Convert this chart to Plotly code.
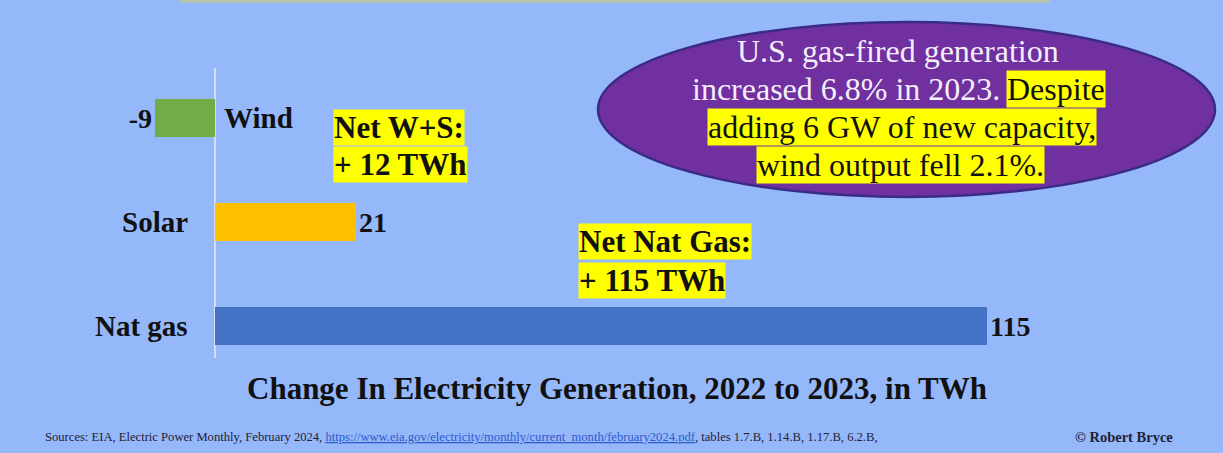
import plotly.graph_objects as go

# ---- data ----
categories = ["Wind", "Solar", "Nat gas"]
values = [-9, 21, 115]
bar_colors = ["#70AD47", "#FFC000", "#4472C4"]
title_text = "Change In Electricity Generation, 2022 to 2023, in TWh"
net_ws = ["Net W+S:", "+ 12 TWh"]
net_gas = ["Net Nat Gas:", "+ 115 TWh"]
oval_lines = ["U.S. gas-fired generation", "increased 6.8% in 2023.", "Despite",
              "adding 6 GW of new capacity,", "wind output fell 2.1%."]
source_text = ("Sources: EIA, Electric Power Monthly, February 2024, "
               "<span style='color:#2E5BC8'><u>https://www.eia.gov/electricity/monthly/current_month/february2024.pdf</u></span>"
               ", tables 1.7.B, 1.14.B, 1.17.B, 6.2.B,")
credit_text = "© Robert Bryce"

W, H = 1223, 453
BG = "#95B8FB"
SERIF = "Liberation Serif"

# layout helpers (pixel -> paper)
def px(x):
    return x / W

def py(y):
    return 1 - y / H

zero_px = 215
ppu = 6.71
x_range = [-zero_px / ppu, (W - zero_px) / ppu]
y_range = [(H - 118) / 104, -118 / 104]

fig = go.Figure()
fig.add_trace(go.Bar(
    y=categories, x=values, orientation="h",
    marker=dict(color=bar_colors, line=dict(width=0)),
    width=0.36,
    text=[str(v) for v in values],
    textposition="outside",
    textfont=dict(family=SERIF, size=28, color="#111111", weight="bold"),
    constraintext="none",
    cliponaxis=False,
    hoverinfo="skip",
))

annotations = []
# category labels
for cat in categories:
    if cat == "Wind":
        annotations.append(dict(x=0, y=cat, xref="x", yref="y", text="<b>%s</b>" % cat,
                                xanchor="left", xshift=7, showarrow=False,
                                font=dict(family=SERIF, size=29, color="#111111")))
    else:
        annotations.append(dict(x=0, y=cat, xref="x", yref="y", text="<b>%s</b>" % cat,
                                xanchor="right", xshift=-25, showarrow=False,
                                font=dict(family=SERIF, size=29, color="#111111")))

def hl(text, x, y, anchor="left", size=31, bold=True):
    t = "<b>%s</b>" % text if bold else text
    return dict(x=px(x), y=py(y), xref="paper", yref="paper", text=t, xanchor=anchor,
                yanchor="middle", showarrow=False, bgcolor="#FFFF00", borderpad=0,
                font=dict(family=SERIF, size=size, color="#111111"))

annotations.append(hl(net_ws[0], 333, 127))
annotations.append(hl(net_ws[1], 333, 164))
annotations.append(hl(net_gas[0], 578, 241))
annotations.append(hl(net_gas[1], 578, 280))

# oval text
OV = 32
annotations.append(dict(x=px(898), y=py(51), xref="paper", yref="paper", text=oval_lines[0],
                        xanchor="center", yanchor="middle", showarrow=False,
                        font=dict(family=SERIF, size=OV, color="#F4EEFA")))
annotations.append(dict(x=px(1002), y=py(89), xref="paper", yref="paper", text=oval_lines[1],
                        xanchor="right", yanchor="middle", showarrow=False,
                        font=dict(family=SERIF, size=OV, color="#F4EEFA")))
annotations.append(hl(oval_lines[2], 1006, 89, "left", OV, False))
annotations.append(hl(oval_lines[3], 902, 127, "center", OV, False))
annotations.append(hl(oval_lines[4], 900, 165, "center", OV, False))

# title
annotations.append(dict(x=px(617), y=py(388), xref="paper", yref="paper",
                        text="<b>%s</b>" % title_text, xanchor="center", yanchor="middle",
                        showarrow=False, font=dict(family=SERIF, size=31, color="#111111")))
# sources
annotations.append(dict(x=px(43), y=py(437), xref="paper", yref="paper", text=source_text,
                        xanchor="left", yanchor="middle", showarrow=False,
                        font=dict(family=SERIF, size=12.6, color="#222233")))
annotations.append(dict(x=px(1175), y=py(437), xref="paper", yref="paper",
                        text="<b>%s</b>" % credit_text, xanchor="right", yanchor="middle",
                        showarrow=False, font=dict(family=SERIF, size=14.5, color="#222233")))

shapes = [
    # top strip remnant
    dict(type="rect", xref="paper", yref="paper", x0=px(180), x1=px(1050), y0=py(3), y1=py(0),
         fillcolor="#B3C3AE", line=dict(width=0), layer="below"),
    # zero line
    dict(type="line", xref="x", yref="paper", x0=0, x1=0, y0=py(358), y1=py(68),
         line=dict(color="#D3DEF6", width=2), layer="below"),
    # purple oval
    dict(type="circle", xref="paper", yref="paper", x0=px(598), x1=px(1215), y0=py(197), y1=py(22),
         fillcolor="#7030A0", line=dict(color="#3A2C86", width=2.5), layer="below"),
]

fig.update_layout(
    width=W, height=H,
    margin=dict(l=0, r=0, t=0, b=0),
    paper_bgcolor=BG, plot_bgcolor=BG,
    showlegend=False,
    xaxis=dict(range=x_range, visible=False, fixedrange=True),
    yaxis=dict(type="category", range=y_range, visible=False, fixedrange=True),
    annotations=annotations,
    shapes=shapes,
    bargap=0,
)

fig.write_html("out.html", config={"displayModeBar": False},
               post_script="document.body.style.margin='0';document.body.style.overflow='hidden';")
